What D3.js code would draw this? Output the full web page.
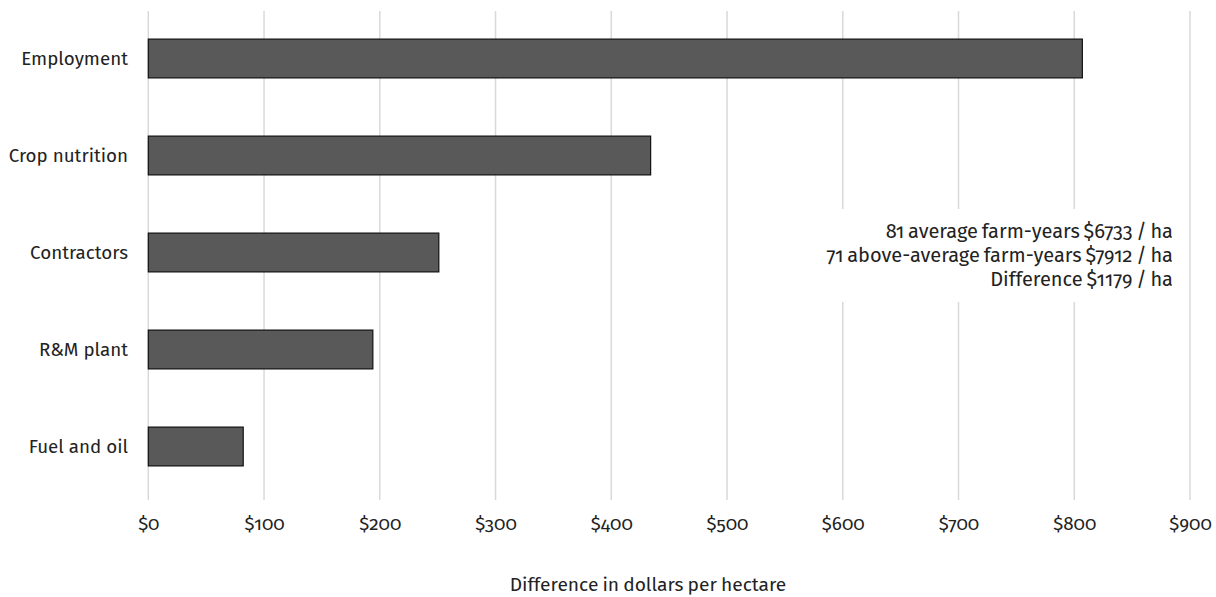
<!DOCTYPE html>
<html>
<head>
<meta charset="utf-8">
<script src="https://cdn.jsdelivr.net/npm/d3@7"></script>
<style>
  html, body { margin: 0; padding: 0; background: #fff; }
  svg text { font-family: "Fira Sans", "Open Sans", "Noto Sans", sans-serif; font-weight: 400; font-variant-numeric: oldstyle-nums; font-feature-settings: "onum" 1; }
</style>
</head>
<body>
<svg id="chart" width="1216" height="597"></svg>
<script>
// Cost categories and the per-hectare difference between the two farm groups
const categories = ["Employment", "Crop nutrition", "Contractors", "R&M plant", "Fuel and oil"];
const differences = [807, 434, 251, 194, 82];
const tickValues = [0, 100, 200, 300, 400, 500, 600, 700, 800, 900];
const noteLines = [
  "81 average farm-years $6733 / ha",
  "71 above-average farm-years $7912 / ha",
  "Difference $1179 / ha"
];
const axisTitle = "Difference in dollars per hectare";

const svg = d3.select("#chart");
const textColor = "#222";
const fontSize = 18.8;

const x = d3.scaleLinear().domain([0, 900]).range([148.3, 1190]);
const y = d3.scaleBand().domain(categories).range([10, 495]).paddingInner(0.6).paddingOuter(0.3);

// vertical gridlines
svg.append("g").selectAll("line").data(tickValues).join("line")
  .attr("x1", d => x(d)).attr("x2", d => x(d))
  .attr("y1", 11).attr("y2", 500)
  .attr("stroke", "#d9d9d9").attr("stroke-width", 1.5);

// bars
svg.append("g").selectAll("rect").data(categories).join("rect")
  .attr("x", x(0))
  .attr("y", d => y(d))
  .attr("width", (d, i) => x(differences[i]) - x(0))
  .attr("height", y.bandwidth())
  .attr("fill", "#595959")
  .attr("stroke", "#111")
  .attr("stroke-width", 1.2);

// category labels
const axisLeft = d3.axisLeft(y).tickSize(0).tickPadding(0);
const gy = svg.append("g").attr("transform", "translate(128,0)").call(axisLeft)
  .attr("font-family", null).attr("font-size", fontSize);
gy.select(".domain").remove();
gy.selectAll("text").attr("fill", textColor);

// value axis labels
const axisBottom = d3.axisBottom(x).tickValues(tickValues).tickFormat(d => "$" + d).tickSize(0).tickPadding(0);
const gx = svg.append("g").attr("transform", "translate(0,517)").call(axisBottom)
  .attr("font-family", null).attr("font-size", fontSize);
gx.select(".domain").remove();
gx.selectAll("text").attr("fill", textColor);

// annotation block with white backing over the gridlines
svg.append("rect").attr("x", 815).attr("y", 209).attr("width", 365).attr("height", 93).attr("fill", "#fff");
svg.append("g").selectAll("text").data(noteLines).join("text")
  .attr("x", 1173)
  .attr("y", (d, i) => 238 + i * 24)
  .attr("text-anchor", "end")
  .attr("font-size", 20)
  .attr("word-spacing", -1.5)
  .attr("fill", textColor)
  .text(d => d);

// axis title
svg.append("text")
  .attr("x", 648).attr("y", 591)
  .attr("text-anchor", "middle")
  .attr("font-size", 19.2)
  .attr("word-spacing", -1)
  .attr("fill", textColor)
  .text(axisTitle);
</script>
</body>
</html>
